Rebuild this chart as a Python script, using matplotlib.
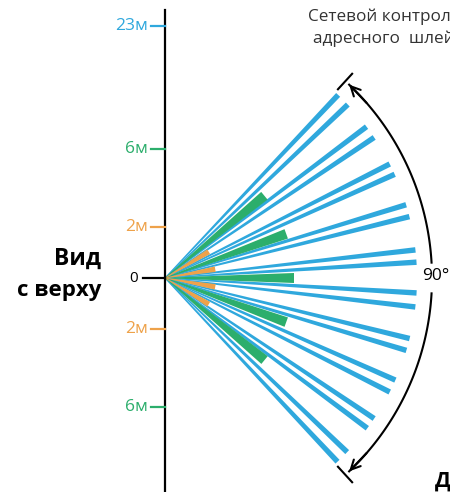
import matplotlib.pyplot as plt
import numpy as np
from matplotlib.patches import Polygon

plt.rcParams['font.family'] = ['Open Sans', 'DejaVu Sans']

# beam directions (degrees from horizontal) and zone ranges (m)
blue_deg = [46.6, 43.5, 36.9, 33.9, 26.9, 24.3, 16.9, 14.1, 6.4, 3.6,
            -3.4, -6.6, -13.9, -16.7, -23.9, -26.9, -33.9, -36.6, -43.7, -46.8]
green_deg = [39.6, 20.0, 0.0, -20.0, -39.5]
orange_deg = [31.0, 10.0, -10.0, -31.0]
blue_range = 23
green_range = 6
orange_range = 2

tick_vals = [23, 6, 2, 0, -2, -6]
tick_labels = ['23м', '6м', '2м', '0', '2м', '6м']
view_angle = 90

#colors
blue = '#2fa8dd'
green = '#2cae6c'
orange = '#eea24a'
tick_cols = {23: blue, 6: green, 2: orange, 0: 'k'}

# schematic (non linear) range axis
knots_m = [0, 2, 6, 23]
knots_r = [0, 51, 129, 252]
def rad(m):
    return np.sign(m) * np.interp(abs(m), knots_m, knots_r)


def wedge(ax, deg, r, w0, w1, color, z):
    a = np.radians(deg)
    d = np.array([np.cos(a), np.sin(a)])
    n = np.array([-np.sin(a), np.cos(a)])
    pts = [n * w0 / 2, d * r + n * w1 / 2, d * r - n * w1 / 2, -n * w0 / 2]
    ax.add_patch(Polygon(pts, closed=True, fc=color, ec='none', zorder=z))


fig = plt.figure(figsize=(4.5, 4.92), dpi=100)
ax = fig.add_axes([0, 0, 1, 1])
ax.set_xlim(-165, 285)
ax.set_ylim(-214, 278)
ax.axis('off')

for d in blue_deg:
    wedge(ax, d, rad(blue_range), 1.0, 5.5, blue, 2)
for d in green_deg:
    wedge(ax, d, rad(green_range), 0.5, 10, green, 3)
for d in orange_deg:
    wedge(ax, d, rad(orange_range), 0.5, 5.5, orange, 4)

# vertical axis with range ticks
ax.plot([0, 0], [268, -214], color='k', lw=1.6, zorder=5)
for v, lab in zip(tick_vals, tick_labels):
    y = rad(v)
    c = tick_cols[abs(v)]
    if v == 0:
        ax.plot([-22, 0], [y, y], color=c, lw=1.6, zorder=5)
        ax.text(-27, y, lab, color=c, fontsize=11, ha='right', va='center')
    else:
        ax.plot([-14, 0], [y, y], color=c, lw=1.6, zorder=5)
        ax.text(-17, y, lab, color=c, fontsize=12.5, ha='right', va='center')

# 90 degree arc with arrows
R = 267
half = view_angle / 2 + 2.0
for lo, hi in ((3.3, half - 0.6), (-half + 0.6, -3.3)):
    t = np.radians(np.linspace(lo, hi, 100))
    ax.plot(R * np.cos(t), R * np.sin(t), color='k', lw=1.5, zorder=5)
for s in (1, -1):
    tip = np.radians(s * (half - 0.6))
    back = np.radians(s * (half - 6))
    ax.annotate('', xy=(R * np.cos(tip), R * np.sin(tip)),
                xytext=(R * np.cos(back), R * np.sin(back)),
                arrowprops=dict(arrowstyle='->', lw=1.5, color='k',
                                mutation_scale=17, shrinkA=0, shrinkB=0))
    a = np.radians(s * (half + 0.5))
    ax.plot([256 * np.cos(a), 277 * np.cos(a)],
            [256 * np.sin(a), 277 * np.sin(a)], color='k', lw=1.5, zorder=5)
ax.text(257, 2, '%d°' % view_angle, fontsize=12.5, ha='left', va='center')

# labels
ax.text(-64, 13, 'Вид', fontsize=16.5, fontweight='bold', ha='right',
        va='baseline')
ax.text(-64, -18, 'с верху', fontsize=16, fontweight='bold', ha='right',
        va='baseline')
ax.text(143, 257, 'Сетевой контрол', fontsize=12.3, color='#333333',
        ha='left', va='baseline')
ax.text(148, 235, 'адресного  шлей', fontsize=12.3, color='#333333',
        ha='left', va='baseline')
ax.text(270, -209, 'Д', fontsize=15, fontweight='bold', ha='left',
        va='baseline')

fig.savefig('out.png', dpi=100)
